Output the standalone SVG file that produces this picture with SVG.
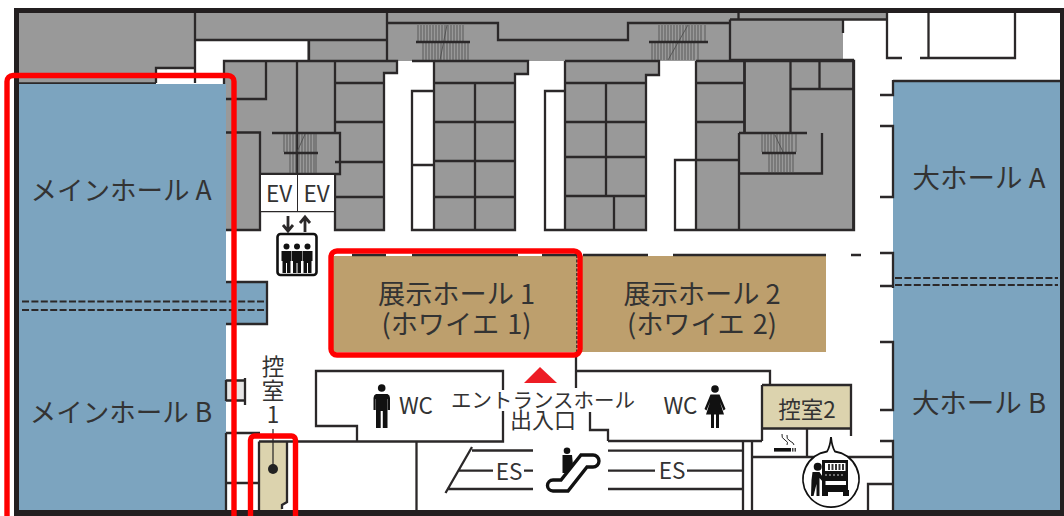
<svg xmlns="http://www.w3.org/2000/svg" width="1064" height="516" viewBox="0 0 1064 516">
<style>
.w{fill:none;stroke:#2b2829;stroke-width:2.3;stroke-linecap:butt}
.t{fill:none;stroke:#2b2829;stroke-width:2.8}
.s{fill:none;stroke:#4a4a4a;stroke-width:.8}
.g{fill:#999}
.b{fill:#7ca4bf}
.k{fill:#bd9f6d}
.c{fill:#dcd3ae}
.d{fill:none;stroke:#2b2829;stroke-width:2;stroke-dasharray:7 2.4}
.r{fill:none;stroke:#f00;stroke-width:5.4}
.i{fill:#111}
text{font-family:"Noto Sans CJK JP","Noto Sans",sans-serif;fill:#333;text-anchor:middle}
.h{font-size:26.5px}
.e{font-size:27.200px}
.l{font-size:27.500px}
.m{font-size:22.500px}
</style>
<rect width="1064" height="516" fill="#fff"/>
<g id="service-areas">
<path class="g" d="M19,13H887V20H843V61H307V41H195V68H156V83H19Z"/>
<rect class="g" x="224" y="61" width="173" height="12"/>
<path class="g" d="M224,73H384V230H335V174H260V230H224Z"/>
<path class="g" d="M434,61H528V74H515V230H434Z"/>
<path class="g" d="M565,61H659V75H646V230H565Z"/>
<rect class="g" x="696" y="61" width="158" height="169"/>
</g>
<g id="walls">
<path d="M14,510H1064V516H14ZM1060,8H1064V516H1060ZM14,8H1064V13H14ZM14,8H19V516H14Z" fill="#231f20"/>
<path class="w" d="M195,13V83M156,83V68H195M19,83.500H156M195,40H387M309,40V61M387,13V61M387,23H498V40H628V23H730M730,19.500V60M730,19.500H887M738.500,13V20M730,60H854M843,20V33M887,13V58H902M920,58H1015V13M928.500,13V58"/>
<path class="w" d="M224,61H397V73H384V230H335V174H260V230H224ZM224,99H266V61M224,132.500H260V230M297,61V174M335,61V133M272,133H340V174H260M335,83H384M335,122H384M335,162H384M335,197H384M260,211H335M297,174V211"/>
<path class="w" d="M412,61H528V74H515V230H412V91H434M434,61V230M412,165H434M434,83H515M434,122H515M434,161H515M434,197H515M475,83V230"/>
<path class="w" d="M565,61H659V75H646V230H545V91H565M565,61V230M565,83H646M565,122H646M565,157H646M565,196H646M606,83V196M614,196V230"/>
<path class="w" d="M696,61H854V230H675V160H696M696,61V230M696,83H744M696,122H744M739,133V230M739,133H807M696,160H739M790.500,61V133M791,89H853M819.500,61V89M822,133V173.500H739"/>
<path class="t" d="M744.500,61V133M853.500,61V230"/>
</g>
<g id="stairs">
<path class="s" d="M418,25V41M421,25V41M424,25V41M427,25V41M430,25V41M433,25V41M436,25V41M439,25V41M442,25V41M445,25V41M448,25V41M451,25V41M454,25V41M457,25V41M460,25V41M463,25V41M423,43V60M426,43V60M429,43V60M432,43V60M435,43V60M438,43V60M441,43V60M444,43V60M447,43V60M450,43V60M453,43V60M456,43V60M459,43V60M462,43V60M465,43V60M468,43V60M447,25L440,60"/>
<path class="s" d="M659,25V41M662,25V41M665,25V41M668,25V41M671,25V41M674,25V41M677,25V41M680,25V41M683,25V41M686,25V41M689,25V41M692,25V41M695,25V41M698,25V41M701,25V41M705,25V41M652,43V60M655,43V60M658,43V60M661,43V60M664,43V60M667,43V60M670,43V60M673,43V60M676,43V60M679,43V60M682,43V60M685,43V60M688,43V60M691,43V60M694,43V60M698,43V60M688,25L668,60"/>
<path class="s" d="M284,134V152M287,134V152M290,134V152M293,134V152M296,134V152M299,134V152M302,134V152M305,134V152M308,134V152M311,134V152M314,134V152M316,134V152M290,154V173M293,154V173M296,154V173M299,154V173M302,154V173M305,154V173M308,154V173M311,154V173M314,154V173M316,154V173M305,134L297,152"/>
<path class="s" d="M762,134V152M765,134V152M768,134V152M771,134V152M774,134V152M777,134V152M780,134V152M783,134V152M786,134V152M789,134V152M792,134V152M796,134V152M769,154V173M772,154V173M775,154V173M778,154V173M781,154V173M784,154V173M787,154V173M790,154V173M793,154V173M775,135L783,152"/>
<path class="w" d="M416,42H470M649,42H708M284,153H318M762,153H796"/>
</g>
<g id="hall-main">
<rect class="b" x="19" y="84" width="207" height="426"/>
<rect class="b" x="226" y="282" width="41" height="42"/>
<path class="w" d="M226,282H267V324H226"/>
<path class="d" d="M22,301.500H267M22,310H267"/>
<text class="h" x="121" y="200">メインホール A</text>
<text class="h" x="121" y="422">メインホール B</text>
</g>
<g id="hall-large">
<rect class="b" x="893" y="81" width="167" height="429"/>
<path class="w" d="M893,81H1060M880,95H893V80M880,126H893V197H880M880,253H893V288M880,286H893M880,342H893V410H880M880,441H893V510"/>
<path class="d" d="M895,278H1058M895,285H1058" stroke-width="2.6"/>
<text class="l" x="979" y="188">大ホール A</text>
<text class="l" x="979" y="413">大ホール B</text>
</g>
<g id="exhibit-hall-1">
<rect class="k" x="333" y="256" width="244" height="96"/>
<path class="w" d="M352,255H386M412,255H518M542,255H577"/>
<text class="e" x="456.500" y="304">展示ホール 1<tspan x="456.500" dy="30" word-spacing="2">(ホワイエ 1)</tspan></text>
</g>
<g id="exhibit-hall-2">
<rect class="k" x="580" y="256" width="246" height="96"/>
<path class="w" d="M583,255H648M673,255H826M851,255H861"/>
<text class="e" x="702" y="304">展示ホール 2<tspan x="702" dy="30" word-spacing="2">(ホワイエ 2)</tspan></text>
</g>
<path d="M577,255V355" fill="none" stroke="#2b2829" stroke-width="1.600" stroke-dasharray="3 1.500"/>
<g id="ev">
<rect x="261" y="175" width="36" height="36" fill="#fff"/>
<rect x="298" y="175" width="36" height="36" fill="#fff"/>
<text class="m" x="279" y="202">EV</text>
<text class="m" x="316.500" y="202">EV</text>
<path class="t" d="M288,216V231M283,225L288,231L293,225M305,232V217M300,223L305,217L310,223"/>
<rect x="277.500" y="234" width="39" height="41" rx="3" fill="#fff" stroke="#111" stroke-width="2.600"/>
<g class="i">
<circle cx="286.500" cy="246.500" r="3"/><path d="M281.500,251H291.500V261H290.500V273H287V263H286V273H282.500V261H281.500Z"/>
<circle cx="297" cy="246.500" r="3"/><path d="M292,251H302V261H301V273H297.500V263H296.500V273H293V261H292Z"/>
<circle cx="307.500" cy="246.500" r="3"/><path d="M302.500,251H312.500V261H311.500V273H308V263H307V273H303.500V261H302.500Z"/>
</g>
</g>
<g id="room-1">
<rect class="c" x="260" y="442" width="27" height="68"/>
<path d="M287,502L282,505V510H287Z" fill="#fff"/>
<path class="w" d="M226,433H260M226,433V510M226,483H259M259,441.500V510M287,441.500V502L282,505V509"/>
<rect x="227" y="381" width="18" height="19" fill="#e6e6e6"/>
<path class="w" d="M226,380.500H245M226,400.500H245M226,380V401"/>
<path class="w" d="M245,378V405"/>
<text class="m" x="273" y="375">控<tspan x="273" dy="24">室</tspan><tspan x="273" dy="24">1</tspan></text>
<path d="M273,429V469" stroke="#222" stroke-width="1.200"/>
<circle cx="273" cy="469" r="5" fill="#222"/>
</g>
<g id="wc-left">
<path class="w" d="M259,441.500H503V411M503,390V371H316V426H357V441.500M416.500,441.500V510"/>
<circle class="i" cx="381.700" cy="388" r="3.800"/>
<path class="i" d="M376,394H387.500Q390,395 390,398V410H387.800V399H387.500V428H382.800V411H380.700V428H376V399H375.700V410H373.500V398Q373.500,395 376,394Z"/>
<text class="m" x="416" y="414">WC</text>
</g>
<g id="wc-right">
<path class="w" d="M576,357V388M576,371H770V385M590,412V430H608V441M762,441H608"/>
<circle class="i" cx="715" cy="389" r="3.800"/>
<path class="i" d="M710.500,394.500H719.500L725.500,409L723.500,410.500L720,402L724,414.500H719V428H716V414.500H714V428H711V414.500H706L710,402L706.500,410.500L704.500,409Z"/>
<text class="m" x="680.500" y="414">WC</text>
</g>
<g id="entrance">
<path d="M540,367L557,383H524Z" fill="#ed1c24"/>
<text x="543" y="408" font-size="20.500px">エントランスホール<tspan x="543" dy="20" font-size="22px">出入口</tspan></text>
</g>
<g id="escalator">
<path class="w" d="M472,447L445.500,493M472,450.500H533M459,470.700H493M524,470.700H533M447,489H533M608,450.700H743M608,470.700H655M687,470.700H743M608,489H743"/>
<text class="m" x="509" y="480">ES</text>
<text class="m" x="672" y="479">ES</text>
<path d="M553,480H561L581,455H593A6,6 0 0 1 593,467H587L568,491H553A5.500,5.500 0 0 1 553,480Z" fill="#fff" stroke="#111" stroke-width="3.400"/>
<circle class="i" cx="567" cy="450.700" r="3.300"/>
<path class="i" d="M562.500,455H572L573,465L566,473H562.500Z"/>
</g>
<g id="room-2">
<rect class="c" x="763" y="386" width="87" height="42"/>
<path class="w" d="M762,385H851V436M762,385V441M763,428.500H851"/>
<text class="m" x="807" y="418">控室2</text>
</g>
<g id="smoking-vending">
<path class="w" d="M743,441V510M752,441V510M752,457H893M807,428V457M868,510V484H893"/>
<rect x="774" y="448" width="17" height="3.600" fill="#111"/>
<path d="M792.500,448V451.600M794,448V451.600M795.500,448V451.600" stroke="#111" stroke-width=".8"/>
<path d="M782,434Q781,438 785,440T787,445M787,435Q786,439 790,441T794,445" fill="none" stroke="#222" stroke-width="1"/>
<path d="M827,451.500Q830,447 831,437Q832,447 835,451.500A28,28 0 1 1 827,451.500Z" fill="#fff" stroke="#111" stroke-width="1.800"/>
<path class="i" d="M822,460H848V490H849V496H843V492H828V496H822Z"/>
<rect x="825" y="463" width="20.500" height="8" fill="#fff"/>
<path d="M828,464H830V470H828ZM831.500,464H833.500V470H831.500ZM835,464H837V470H835ZM838.500,464H840.500V470H838.500ZM842,464H844V470H842Z" fill="#333"/>
<rect x="825.500" y="481" width="20.500" height="4" fill="#fff"/>
<path d="M825,475H845" stroke="#fff" stroke-width=".8" stroke-dasharray="2 2"/>
<circle class="i" cx="817.700" cy="466.700" r="4"/>
<path class="i" d="M812.500,472H819.500L825,480.500L823,482L819.500,478V496H816.500V484L813.500,496H811L811.500,480Z"/>
</g>
<g id="highlights">
<rect class="r" x="7" y="75.500" width="227" height="480" rx="6"/>
<rect class="r" x="331" y="251" width="249" height="104" rx="6"/>
<rect class="r" x="250.500" y="436" width="45" height="120" rx="4"/>
</g>
</svg>
